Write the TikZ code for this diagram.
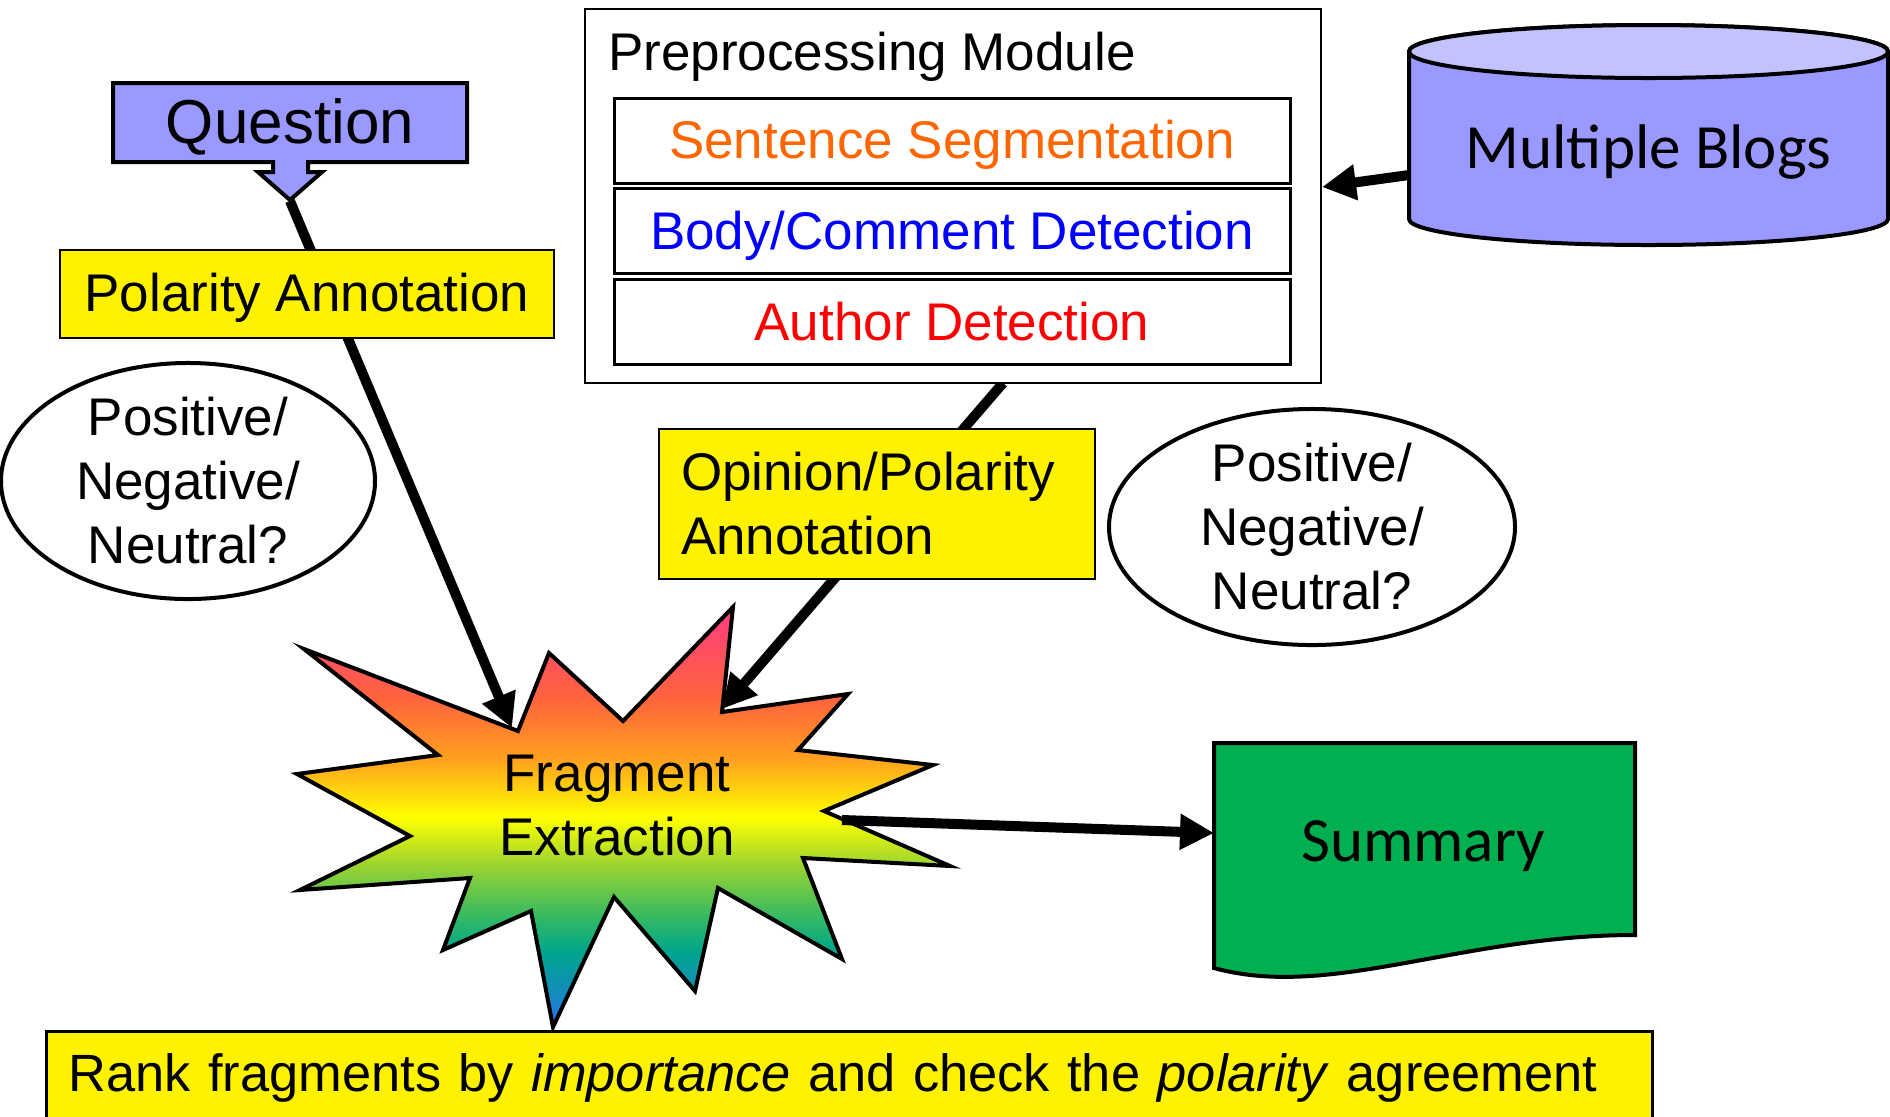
\documentclass[tikz,border=0pt]{standalone}
\usepackage{fontspec}
\setmainfont{Liberation Sans}
\newfontfamily\calibri{Carlito}
\usetikzlibrary{positioning,shapes.geometric,arrows.meta}

\definecolor{qblue}{RGB}{153,153,255}
\definecolor{qtop}{RGB}{194,194,255}
\definecolor{sumgreen}{RGB}{0,176,80}
\definecolor{segorange}{RGB}{255,102,0}
\definecolor{bblue}{RGB}{40,110,240}
\definecolor{bsea}{RGB}{20,140,190}
\definecolor{bteal}{RGB}{0,165,140}
\definecolor{bgreen}{RGB}{50,185,100}
\definecolor{blime}{RGB}{150,210,50}
\definecolor{bamber}{RGB}{255,160,30}
\definecolor{borange}{RGB}{255,100,60}
\definecolor{bpink}{RGB}{255,60,130}

\pgfdeclareverticalshading{fragburst}{100bp}{color(0bp)=(bblue); color(25bp)=(bblue); color(29bp)=(bsea); color(34bp)=(bteal); color(38bp)=(bgreen); color(44bp)=(blime); color(50bp)=(yellow); color(57bp)=(bamber); color(64bp)=(borange); color(75bp)=(bpink); color(100bp)=(bpink)}

\pgfdeclarelayer{back}
\pgfsetlayers{back,main}

\tikzset{
	txt/.style={font=\fontsize{26.5}{32}\selectfont},
	oneline/.style={text height=24pt, text depth=5.6pt},
	big/.style={font=\calibri\fontsize{31.5}{38}\selectfont},
	note/.style={draw, fill=yellow, line width=1pt, txt, inner sep=0pt},
	guess/.style={ellipse, draw, fill=white, line width=2pt, txt, align=center, inner sep=0pt},
	stage/.style={draw, line width=1.5pt, txt, oneline, minimum width=338pt, minimum height=42.5pt, inner sep=0pt},
	flow/.style={line width=5pt, -{Triangle[length=17pt,width=17pt]}},
}

\begin{document}
\begin{tikzpicture}[x=0.5pt, y=-0.5pt]
	\useasboundingbox (0,0) rectangle (1890,1116);
	\clip (0,0) rectangle (1890,1116);
	
	\draw[line width=2pt, fill=qblue] (113,83) -- (467,83) -- (467,162) -- (308,162) -- (308,172) -- (322,172) -- (290,200) -- (258,172) -- (273,172) -- (273,162) -- (113,162) -- cycle;
	\node[font=\fontsize{31}{37}\selectfont, text height=28pt, text depth=6.6pt] (question) at (290,122) {Question};
	\coordinate (qtip) at (290,201);
	
	\node[note, oneline, minimum width=247pt, minimum height=44pt] (polq) at (307,293.5) {Polarity Annotation};
	\node[guess, minimum width=187pt, minimum height=112.5pt] (leftq) at (188,481) {Positive/\\Negative/\\Neutral?};
	
	\node[draw, fill=white, line width=1pt, minimum width=368pt, minimum height=187pt, inner sep=0pt] (pre) at (953,196) {};
	\node[txt, anchor=base west, inner sep=0pt] (pretitle) at (608,70) {Preprocessing Module};
	\node[stage, text=segorange] (seg) at (952,140.5) {Sentence Segmentation};
	\node[stage, text=blue, below=1.3pt of seg] (body) {Body/Comment Detection};
	\node[stage, text=red, below=1.3pt of body] (auth) {Author Detection};
	\coordinate (prefoot) at (1003,383);
	\coordinate (prein) at (1322,187);
	
	\draw[line width=2pt, fill=qblue] (1409,51.5) -- (1409,219) arc (180:0:239.5 and 26) -- (1888,51.5) arc (0:-180:239.5 and 26.5) -- cycle;
	\draw[line width=2pt, fill=qtop] (1648.5,51.5) ellipse (239.5 and 26.5);
	\node[big] (blogs) at (1648.5,152) {Multiple Blogs};
	\coordinate (blogsout) at (1409,175);
	
	\node[note, minimum width=217.75pt, minimum height=75pt, text width=195.75pt, inner xsep=11pt, align=left] (polo) at (876.75,503.5) {Opinion/Polarity\\Annotation};
	\node[guess, minimum width=203pt, minimum height=113pt] (rightq) at (1312,527) {Positive/\\Negative/\\Neutral?};
	
	\node[txt, align=center] (frag) at (617,806) {Fragment\\Extraction};
	\coordinate (qend) at (512,728);
	\coordinate (oend) at (722,709);
	\coordinate (fragout) at (842,820);
	
	\draw[line width=2pt, fill=sumgreen] (1214,743) -- (1635,743) -- (1635,935) .. controls (1460,935) and (1330,1000) .. (1214,968) -- cycle;
	\node[big] (summary) at (1423,846) {Summary};
	\coordinate (sumin) at (1214,833);
	
	\node[note, font=\fontsize{26.2}{32}\selectfont, anchor=north west, line width=1.5pt, minimum height=46.6pt, text width=781pt, inner xsep=11pt, align=left] (rank) at (45,1030) {Rank fragments by \textit{importance} and check the \textit{polarity} agreement};
	
	\begin{pgfonlayer}{back}
		\shade[shading=fragburst, draw, line width=2pt] (304,649) -- (518,731) -- (549,653) -- (623,721) -- (733,607) -- (722,712) -- (848,694) -- (798,750) -- (933,765) -- (824,811) -- (950,866) -- (803,858) -- (842,959) -- (718,888) -- (695,991) -- (614,897) -- (553,1027) -- (531,911) -- (443,950) -- (470,878) -- (300,890) -- (410,836) -- (297,774) -- (438,755) -- cycle;
		\draw[flow] (qtip) -- (qend);
		\draw[flow] (prefoot) -- (oend);
		\draw[flow] (blogsout) -- (prein);
		\draw[flow] (fragout) -- (sumin);
	\end{pgfonlayer}
	
\end{tikzpicture}
\end{document}
